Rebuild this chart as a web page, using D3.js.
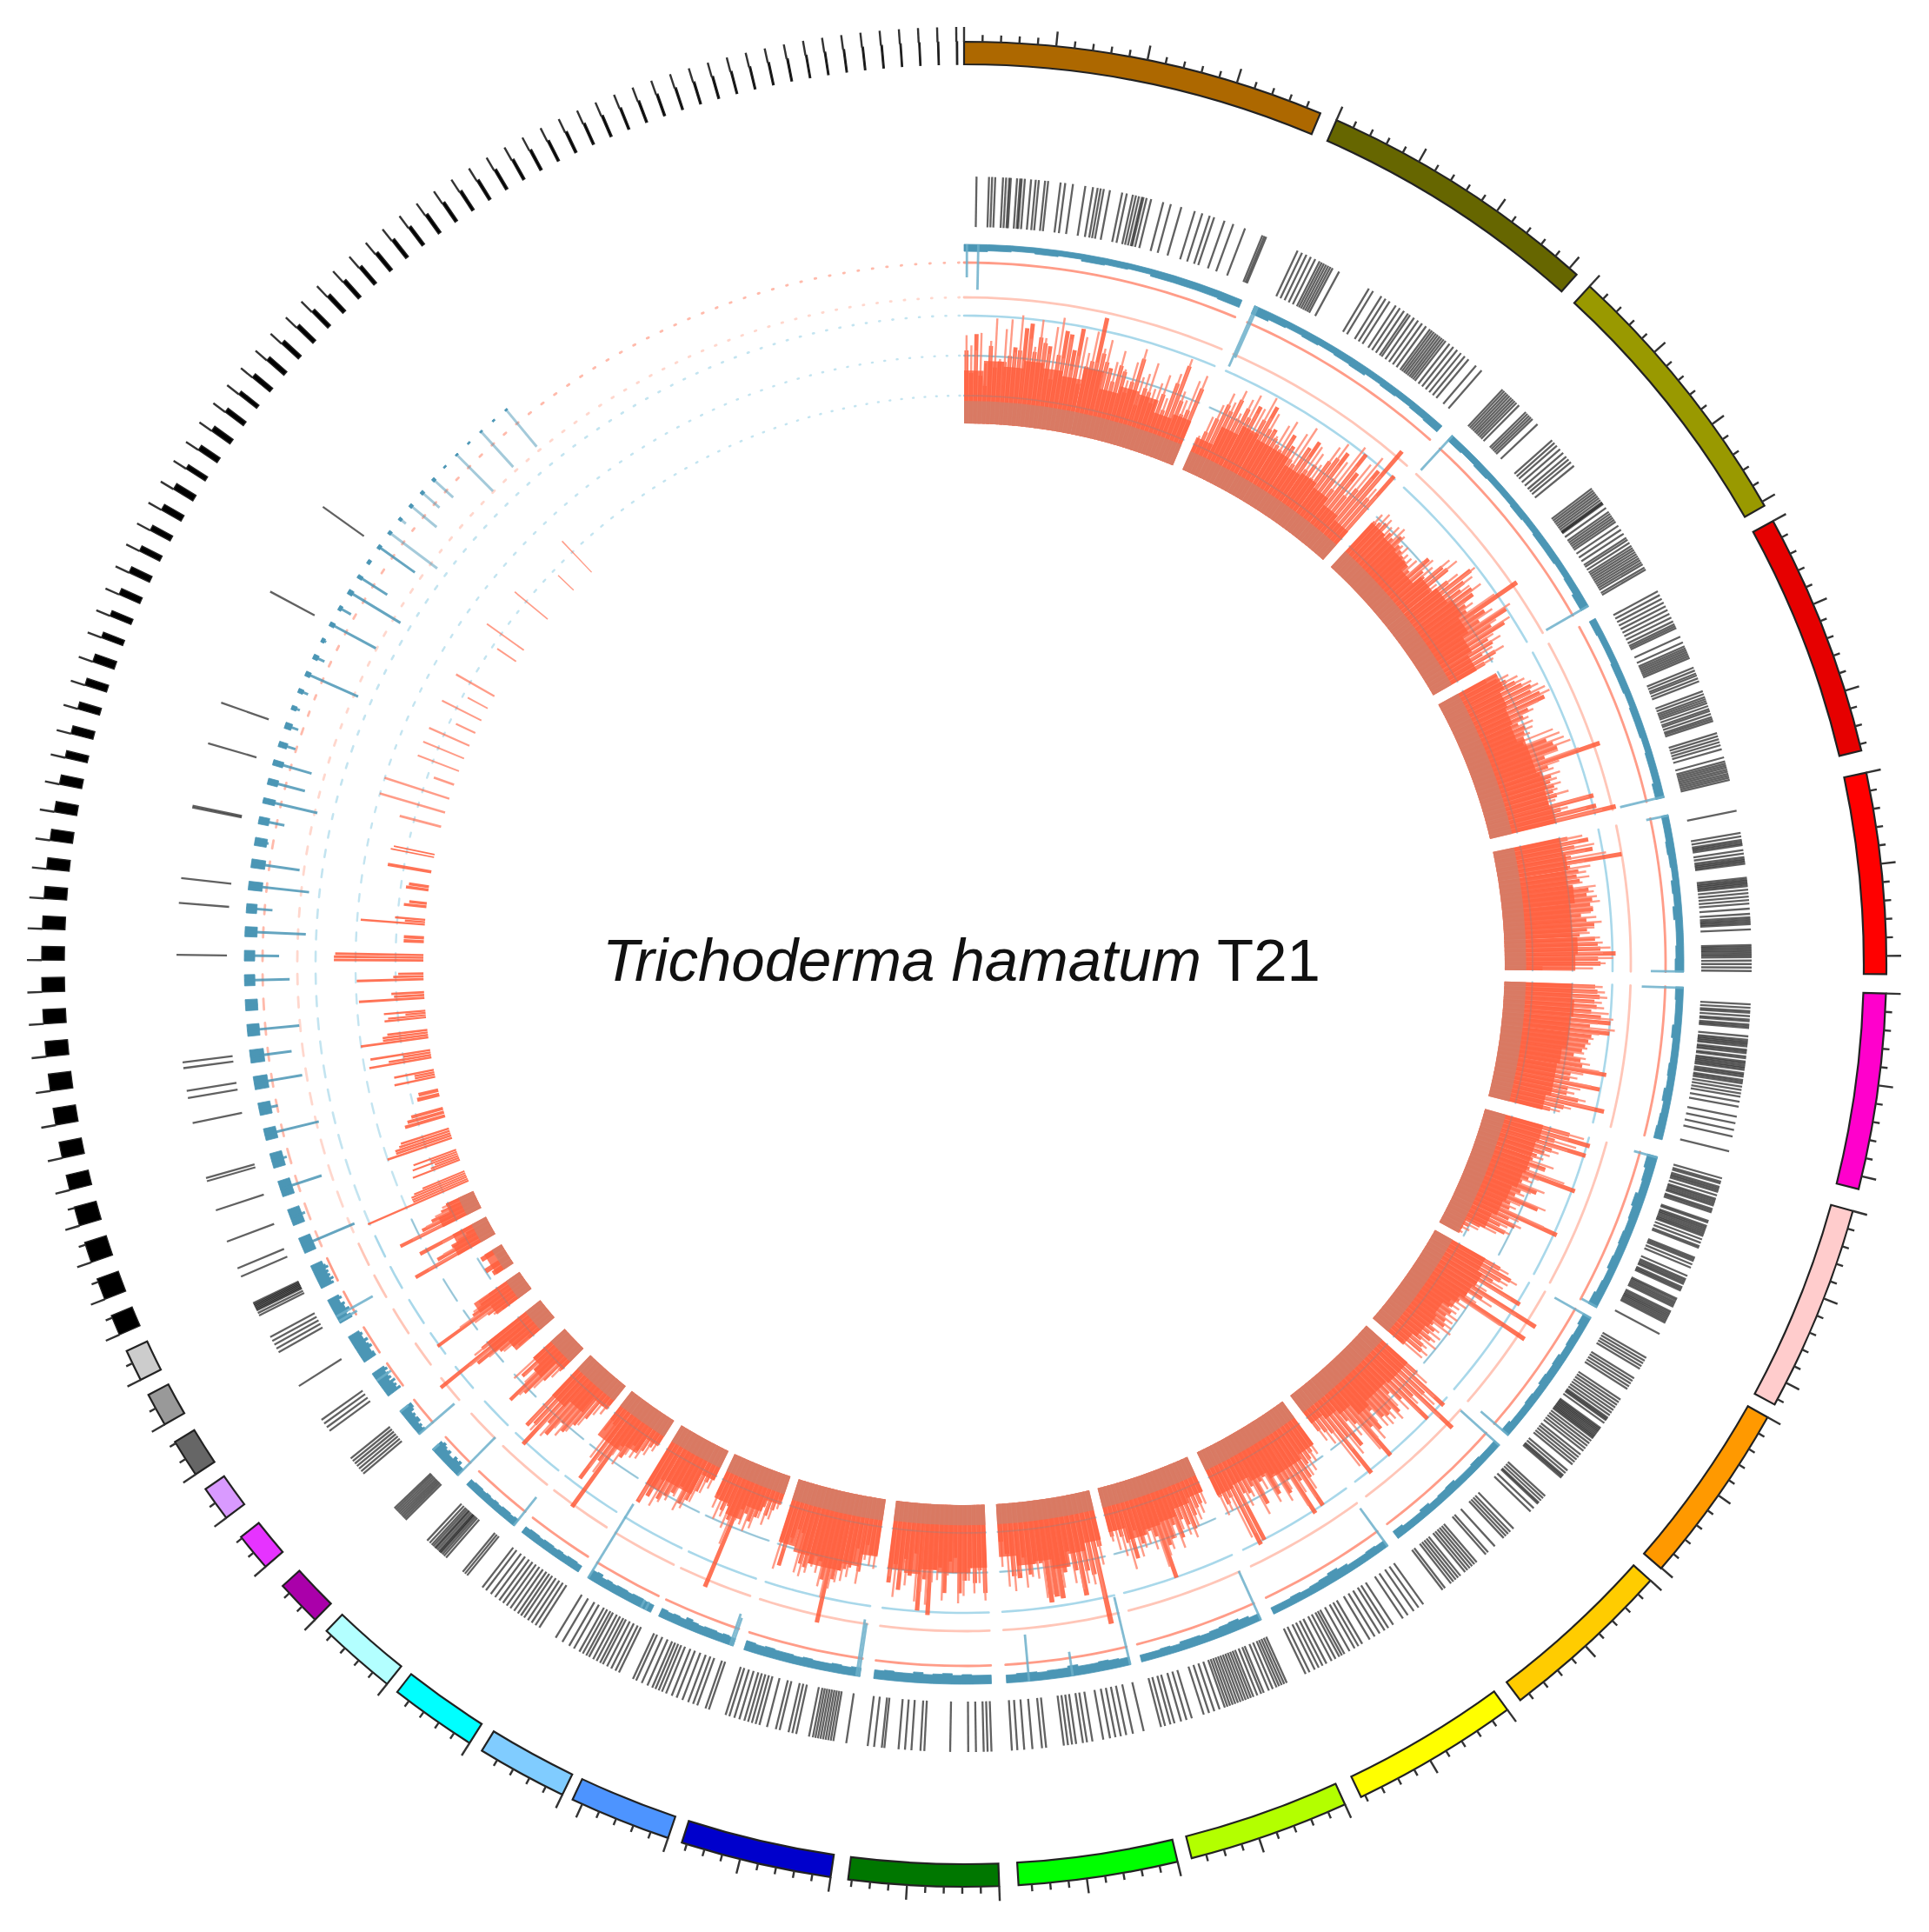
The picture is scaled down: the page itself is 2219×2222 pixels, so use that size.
<!DOCTYPE html>
<html>
<head>
<meta charset="utf-8">
<script src="https://cdnjs.cloudflare.com/ajax/libs/d3/7.8.5/d3.min.js"></script>
<style>
html, body { margin: 0; background: #fff; }
</style>
</head>
<body>
<div id="chart"></div>
<script>
// contig sizes in kb, clockwise from the top
const bigLengths = [1981, 1552, 1525, 1336, 1099, 1072, 1133, 1003, 959, 924, 881, 872, 820, 828, 558, 497, 480, 436, 253, 209, 192, 209, 183, 174];
const bigGaps = [1.09, 1.09, 1.09, 1.4, 1.2, 1.4, 0.9, 1.0, 1.0, 1.1, 0.9, 1.2, 1.1, 0.9, 0.7, 0.9, 0.8, 1.0, 1.6, 1.5, 1.1, 1.25, 1.05, 1.1];
const bigColors = ["#ad6800", "#666600", "#999900", "#e60000", "#ff0000", "#ff00cc", "#ffcccc", "#ff9900", "#ffcc00", "#ffff00", "#b3ff00", "#00ff00", "#007700", "#0000cc", "#4d94ff", "#80ccff", "#00ffff", "#b3ffff", "#aa00aa", "#e633ff", "#d99aff", "#666666", "#999999", "#cccccc"];
const tinyLengths = [113, 118, 113, 105, 83, 87, 92, 92, 83, 78, 78, 74, 70, 65, 61, 61, 57, 52, 39, 44, 39, 39, 44, 31, 31, 35, 35, 31, 31, 35, 35, 26, 31, 31, 26, 22, 26, 26,
    24, 23, 22, 22, 21, 20, 20, 19, 18, 18, 17, 16, 15, 15, 14, 14, 13, 13, 12, 12, 11, 11, 11, 10, 10, 10, 9, 9, 9, 9, 8, 8, 8, 8, 8, 7, 7, 7, 7];

// gene positions, percent along each big contig
const genes = [
    [4, 8, 9, 10, 12.5, 13.5, 14.5, 15, 17, 18, 18.5, 19.5, 21.5, 23, 24, 26, 27, 31, 32.5, 35, 39, 41.5, 43, 44, 45, 47, 51, 52.5, 54.5, 55.5, 56.5, 57.5, 58, 59, 60.5, 64.5, 67, 70.5, 75, 77.5, 80, 81.5, 85, 88, 92, 98, 98.7, 99.3],
    [7, 9, 11, 13, 15, 17, 18, 19, 20, 21, 22, 23, 26, 40, 42, 46, 48, 50, 53, 55, 57, 59, 60, 62, 64, 66, 68, 70, 71, 72, 73, 74, 75, 76, 77, 78, 80, 82, 84, 86, 88, 90, 94, 97],
    [2.5, 3.5, 4.5, 5.5, 6.5, 7.5, 8.5, 9.5, 10.5, 12, 16, 17, 18, 19, 20, 23, 32, 33.5, 35, 37, 39, 41, 42.5, 44, 46, 58, 59, 60, 61, 62, 63, 64, 65, 65.5, 66, 68, 70, 71, 72, 73, 74, 75, 77, 79, 81, 83, 84, 85.5, 87, 88, 89, 90, 91, 92, 93, 94, 95, 96, 97.5, 98.5],
    [3, 5, 7, 9, 11, 13, 15, 17, 19, 20.5, 21.5, 22.5, 27, 30, 32, 33, 34, 35, 36, 37, 38, 43, 44.5, 46, 47, 48.5, 50, 55, 56.5, 58, 59, 60, 61, 62.5, 64, 65, 66.5, 68, 69, 70, 76, 77.5, 79, 80.5, 82, 84, 88, 90, 91, 92, 93, 94, 95, 96, 97, 98, 99],
    [6, 19, 21, 23, 24, 25, 26, 29, 31, 33, 34, 35, 36, 37, 45, 46, 47, 48, 49, 50, 52, 54, 56, 58, 60, 63, 66, 68, 69, 70, 71, 72, 75, 84, 85, 86, 87, 88, 89, 90, 91, 93, 95, 97, 99],
    [9, 11, 13, 14, 16, 18, 19, 21, 22, 23, 28, 30, 31, 32, 33, 34, 36, 37, 38, 40, 41, 43, 44, 45, 46, 47, 48, 50, 51, 52, 54, 55, 56, 58, 60, 62, 64, 67, 70, 76, 80, 84, 88, 97],
    [2, 4, 5, 7, 8, 9, 10, 12, 14, 15, 16, 17, 18, 20, 21, 22, 27, 28, 30, 31, 32, 33, 34, 35, 36, 38, 40, 42, 43, 49, 50, 51, 53, 55, 60, 62, 63, 64, 65, 67, 68, 69, 74, 75, 76, 77, 78, 79, 82, 83, 84, 85, 86, 87, 88, 89, 96],
    [5, 7, 9, 11, 13, 20, 22, 24, 26, 28, 36, 38, 40, 42, 44, 46, 48, 50, 51, 52, 54, 58, 59, 60, 61, 62, 63, 64, 65, 66, 68, 70, 72, 74, 76, 79, 81, 83, 85, 87, 92, 94, 96, 97, 98],
    [5, 7, 9, 11, 12, 16, 19, 35, 38, 40, 42, 44, 52, 58, 60, 68, 70, 72, 74, 76, 78, 82, 84, 86, 88, 90, 95, 97],
    [4, 8, 12, 17, 21, 29, 33, 36, 40, 44, 48, 54, 57, 60, 64, 68, 70, 72, 75, 78, 82, 85, 88, 91, 95, 98],
    [2, 4, 6, 8, 10, 13, 16, 20, 22, 25, 28, 30, 32, 34, 36, 38, 40, 42, 44, 46, 48, 50, 54, 58, 62, 66, 75, 79, 83, 88, 91, 95, 98],
    [2, 10, 15, 19, 23, 27, 32, 40, 44, 47, 52, 55, 58, 61, 74, 77, 84, 90, 95, 99],
    [2, 5, 8, 14, 20, 34, 54, 57, 64, 69, 74, 85, 87, 93, 98],
    [3, 13, 15, 17, 19, 21, 23, 25, 27, 29, 32, 42, 45, 48, 55, 58, 65, 71, 74, 77, 80, 83, 87, 91, 95, 98],
    [3, 7, 17, 22, 28, 35, 42, 48, 55, 60, 64, 68, 72, 78, 85, 92, 96],
    [3, 8, 14, 20, 26, 30, 35, 40, 46, 50, 55, 60, 68, 75, 85, 95],
    [4, 10, 16, 22, 28, 33, 38, 44, 50, 56, 62, 68, 75, 82, 90, 96],
    [8, 12, 16, 48, 52, 55, 58, 60, 62, 65, 68, 70, 73, 76, 80, 85],
    [15, 20, 25, 30, 35, 40, 45, 50, 55],
    [20, 30, 40, 50, 60, 70, 80],
    [25, 40, 55, 70],
    [50],
    [20, 35, 50, 65, 80],
    [15, 25, 35, 40, 45, 50, 55, 60, 65]
];
// genes on the small black contigs, by contig number
const tinyGenes = { 0: [25, 75], 1: [50], 2: [50], 3: [40, 60], 5: [50], 6: [25, 75], 7: [30, 70], 11: [50], 13: [50], 14: [50], 17: [40, 60], 20: [50], 22: [50], 28: [50], 33: [50] };

// histogram heights, 100 = outer light salmon ring
const redBars = [
    [58, 40, 71, 38, 30, 62, 45, 50, 50, 55, 62, 60, 78, 82, 60, 72, 68, 66, 40, 60, 80, 78, 66, 84, 40, 55, 60, 96, 68, 62, 58, 48, 62, 58, 42, 52, 72, 35, 50, 48, 40, 44, 50, 38, 62, 78, 50, 40, 45, 65],
    [22, 35, 48, 62, 58, 70, 55, 66, 60, 72, 50, 64, 78, 60, 62, 56, 52, 50, 66, 58, 48, 46, 64, 72, 48, 55, 45, 64, 70, 78, 55, 48, 86, 70, 50, 60, 82, 106, 60, 87],
    [50, 52, 55, 48, 52, 50, 56, 50, 48, 46, 45, 44, 42, 60, 50, 48, 64, 66, 44, 60, 80, 70, 64, 72, 70, 60, 58, 104, 70, 62, 85, 68, 78, 60, 62, 50, 60, 48],
    [42, 50, 56, 62, 66, 72, 70, 76, 78, 62, 56, 50, 54, 52, 50, 48, 66, 70, 72, 60, 105, 60, 52, 60, 58, 60, 58, 60, 52, 88, 60, 88, 103],
    [60, 76, 64, 78, 60, 100, 58, 64, 62, 64, 58, 70, 68, 72, 70, 72, 62, 66, 72, 66, 60, 72, 74, 76, 88, 74, 76, 30],
    [72, 74, 76, 72, 74, 70, 78, 86, 70, 86, 72, 70, 68, 66, 60, 66, 68, 88, 60, 60, 85, 60, 60, 70, 92, 60, 50],
    [70, 88, 60, 87, 60, 55, 50, 48, 60, 48, 88, 50, 46, 60, 48, 45, 66, 44, 45, 88, 48, 55, 44, 50, 30, 22, 18, 14],
    [60, 72, 65, 60, 88, 50, 108, 60, 48, 106, 46, 40, 42, 46, 44, 46, 48, 40, 44, 42, 46, 40, 44, 46, 30],
    [55, 88, 70, 105, 65, 86, 60, 50, 66, 60, 62, 60, 50, 66, 60, 87, 50, 44, 66, 54, 88, 44, 40, 36],
    [42, 46, 50, 52, 62, 86, 60, 88, 54, 64, 44, 60, 42, 44, 62, 44, 48, 46, 86, 88, 44, 48, 40],
    [30, 38, 40, 45, 55, 50, 44, 58, 46, 56, 60, 86, 50, 44, 46, 52, 40, 62, 48, 42, 36, 40],
    [45, 107, 66, 62, 81, 60, 44, 60, 80, 78, 82, 50, 50, 58, 44, 60, 58, 40, 30],
    [70, 52, 62, 50, 60, 70, 42, 45, 70, 50, 52, 88, 60, 85, 40, 58, 45, 70, 50, 65],
    [45, 45, 38, 60, 42, 58, 60, 62, 70, 106, 72, 58, 55, 62, 66, 64, 40, 38, 46, 70, 50],
    [20, 30, 36, 30, 40, 45, 40, 38, 106, 50, 40, 45, 38, 35],
    [26, 30, 40, 50, 55, 42, 50, 55, 60, 45, 62, 70],
    [22, 28, 34, 36, 34, 48, 40, 102, 60, 80, 30, 28],
    [20, 24, 40, 50, 60, 55, 70, 62, 88, 70, 75],
    [26, 40, 58, 70, 40, 50, 34],
    [26, 40, 50, 70, 105, 60],
    [28, 40, 87, 50, 40, 30],
    [18, 22, 8, 20],
    [72, 50, 35, 20, 60],
    [71, 50, 40, 30, 24]
];
// finer pale lines that sit between the wider bars
const redThin = [
    [70, 62, 58, 72, 48, 66, 84, 52, 76, 84, 58, 88, 52, 70, 64, 86, 72, 60, 82, 90, 58, 74, 50, 62, 78, 66, 84, 60, 72, 80, 56, 64, 74, 60, 52, 68, 80, 58, 62, 72, 52, 58, 66, 48, 70, 84, 58, 52, 70, 76],
    [30, 48, 60, 72, 66, 78, 60, 74, 80, 66, 72, 84, 68, 74, 60, 58, 70, 76, 62, 56, 72, 80, 62, 58, 70, 66, 58, 78, 84, 66, 72, 90, 74, 62, 82, 92, 74, 80, 70, 66],
    [58, 62, 60, 56, 60, 62, 58, 52, 54, 50, 50, 52, 56, 62, 58, 72, 76, 52, 70, 84, 78, 72, 80, 62, 66, 84, 62, 76, 90, 74, 84, 66, 70, 60, 68, 56],
    [52, 60, 66, 70, 74, 78, 82, 84, 72, 66, 60, 62, 60, 56, 74, 78, 80, 84, 72, 88, 70, 64, 68, 64, 66, 62, 70, 58, 84, 66, 80, 92],
    [72, 68, 80, 72, 88, 70, 74, 70, 72, 66, 76, 74, 76, 78, 72, 70, 74, 78, 72, 68, 76, 78, 84, 78, 86, 80, 70],
    [78, 80, 82, 78, 80, 84, 88, 76, 90, 78, 74, 72, 70, 68, 70, 74, 82, 70, 66, 78, 70, 66, 76, 84, 66, 58],
    [82, 70, 78, 72, 66, 60, 56, 66, 60, 78, 58, 54, 66, 56, 52, 72, 52, 50, 76, 56, 60, 50, 54, 44, 30, 24, 20],
    [68, 78, 72, 70, 80, 60, 90, 70, 58, 84, 54, 50, 50, 54, 52, 54, 56, 48, 52, 50, 54, 48, 52, 50],
    [66, 78, 82, 92, 72, 78, 70, 62, 72, 68, 70, 68, 60, 74, 70, 78, 60, 54, 72, 64, 78, 52, 46],
    [50, 54, 60, 62, 72, 78, 70, 80, 62, 70, 56, 66, 52, 54, 70, 52, 58, 56, 78, 80, 54, 56],
    [40, 46, 50, 54, 62, 58, 52, 66, 56, 64, 68, 76, 60, 54, 56, 62, 50, 70, 58, 52, 44],
    [60, 86, 74, 72, 76, 70, 56, 72, 78, 76, 78, 62, 60, 68, 56, 70, 66, 50],
    [76, 62, 70, 60, 72, 78, 54, 56, 76, 60, 62, 80, 70, 78, 52, 66, 56, 76, 60],
    [56, 54, 50, 70, 54, 66, 70, 72, 78, 86, 78, 68, 64, 70, 74, 72, 52, 50, 56, 74],
    [28, 38, 44, 40, 50, 54, 50, 48, 70, 58, 50, 54, 46],
    [34, 40, 50, 58, 62, 52, 58, 62, 68, 56, 68],
    [30, 36, 42, 44, 44, 56, 50, 70, 68, 62, 38],
    [30, 34, 48, 58, 66, 62, 74, 70, 76, 72],
    [34, 50, 62, 52, 48, 56],
    [36, 48, 60, 76, 68],
    [36, 52, 64, 48, 40],
    [],
    [60, 44, 28, 40],
    [60, 46, 36, 28]
];
const redCore = [
    [42, 50, 46, 52, 48, 44, 54, 40, 46, 44, 34, 38],
    [28, 44, 52, 48, 48, 42, 44, 40, 34, 30],
    [48, 46, 44, 38, 46, 50, 54, 50, 44, 40],
    [52, 48, 46, 44, 50, 50, 54, 52, 54],
    [54, 56, 54, 58, 54, 54, 58, 56],
    [54, 56, 54, 54, 50, 48, 48, 44],
    [48, 46, 46, 44, 40, 38, 34, 18],
    [46, 50, 48, 44, 36, 38, 36, 32],
    [44, 44, 42, 42, 46, 36, 32, 28],
    [42, 46, 46, 40, 36, 38],
    [30, 34, 40, 42, 46, 36],
    [40, 46, 56, 48, 50, 42],
    [50, 54, 54, 52, 56, 54],
    [46, 56, 62, 62, 56, 52],
    [24, 34, 46, 38],
    [26, 44, 44, 54],
    [24, 38, 44, 44],
    [24, 38, 44],
    [24, 40, 34],
    [40, 54],
    [34, 44],
    [16],
    [34, 30],
    [34, 24]
];
const redBase = [18, 16, 17, 18, 17, 17, 17, 16, 17, 16, 16, 16, 16, 17, 15, 15, 15, 15, 15, 15, 13, 9, 13, 13];
const tinyRedBars = { 0: [87, 47, 47, 47, 44, 36], 1: [40, 24, 20, 38, 22, 36], 2: [54, 46, 46, 42, 40], 3: [33, 30, 26], 4: [18, 16], 5: [33, 16, 16, 32], 6: [50, 34, 22, 48], 7: [54, 36, 36, 32],
    8: [33, 30, 16, 33], 9: [52, 24, 26], 10: [53, 24, 20], 11: [71, 71, 70], 12: [16, 16], 13: [51, 16, 24], 14: [18, 14], 15: [18, 16], 16: [35], 17: [35, 33], 19: [34], 20: [54], 21: [54],
    22: [17], 23: [35], 24: [35], 25: [35], 26: [17], 27: [35], 28: [18], 29: [35], 32: [18], 33: [36], 36: [34], 39: [17], 41: [34] };

// coverage track: band depth per contig and lone peaks as [percent, depth]
const blueBand = [
    [4, 3.5, 3, 3.5, 3, 4, 3.5, 3, 4, 4, 4, 4.5],
    [5, 4, 3.5, 4, 3.5, 4, 4.5, 3.5, 4, 3.5, 4, 4.5],
    [4, 3.5, 4, 3.5, 3.5, 4, 3.5, 4, 4, 3.5, 4, 5],
    [4, 3.5, 3.5, 4, 4, 3.5, 4, 4, 3.5, 4, 4, 5],
    [4, 4, 4.5, 4, 3.5, 4.5, 4, 5, 4, 4, 4.5, 5],
    [4.5, 4, 4, 5, 4, 4, 4.5, 4, 5, 4, 4.5, 5],
    [6, 5, 4.5, 6, 5, 4.5, 5, 4.5, 5, 4, 4.5, 5.5],
    [5, 4, 4.5, 4, 5, 4.5, 5, 4, 4.5, 4, 4, 5],
    [4, 4, 4.5, 4, 4, 5, 4.5, 4, 5, 4, 4, 5],
    [4, 4.5, 4, 4, 5, 6, 5, 4.5, 4, 4.5, 4, 4],
    [4, 5, 6, 5.5, 5, 4.5, 5, 5, 4, 4.5, 4, 4],
    [4.5, 5, 5.5, 5, 5, 6, 5, 5, 4.5, 5, 5, 4.5],
    [5, 5, 5.5, 5, 6, 5.5, 5, 6, 5, 5, 5.5, 5],
    [5, 4.5, 5, 4.5, 4.5, 5, 4.5, 5, 5, 5.5, 5, 5.5],
    [4.5, 5, 4.5, 5, 5, 4.5, 5, 6, 4.5, 5, 4.5, 5],
    [4.5, 4.5, 5, 5, 4.5, 5, 5, 4.5, 5, 4.5, 6, 5.5],
    [4, 4.5, 4.5, 4, 4.5, 4, 4.5, 4.5, 4, 4.5, 4.5, 4],
    [4.5, 4, 4.5, 4.5, 4, 4.5, 4, 4.5, 4, 4.5, 4.5, 4],
    [5, 5, 7, 6, 7, 5, 5, 7, 6, 7, 8, 7],
    [5, 4, 5, 4, 6, 6, 5, 6, 5, 7, 8, 8],
    [9, 7, 8, 7, 9, 6, 8, 7, 8, 7, 9, 8],
    [8, 8, 7, 7, 9, 8, 7, 9, 7, 7, 8, 7],
    [8, 8, 6, 7, 9, 7, 7, 8, 6, 6, 8, 7],
    [8, 7, 9, 7, 8, 7, 8, 7, 9, 8, 7, 7]
];
const bluePeaks = [
    [[1, 19], [5, 26]], [[0.5, 38], [1.5, 32]], [[0.3, 27], [99.7, 28]], [[99.5, 26]], [[0.5, 13], [99.7, 19]], [[0.5, 24]], [[0.5, 14], [99.5, 10]],
    [[0.3, 24], [99.6, 21]], [[0.3, 30]], [[0.3, 27]], [[0.3, 31]], [[0.3, 40], [47, 14], [82, 27]], [], [[1, 31], [3, 33]], [[1, 17], [4, 19]],
    [[8, 5], [15, 5], [99.6, 50]], [], [[0.5, 21]], [[0.5, 31], [98, 5]], [[0.5, 27], [98, 6]], [[70, 10]], [], [[30, 24], [10, 12]], []
];
const tinyBlueBlock = [7, 7, 7, 7, 7, 7, 8, 8, 7, 7, 6, 6, 7, 6, 8, 8, 7, 6, 7, 6, 6, 5, 4, 3, 3, 3, 3, 2, 3, 2, 3, 3, 2, 2, 2, 2, 2, 2, 2, 1, 1, 1, 1, 1, 1];
const tinyBlueTail = [33, 9, 25, 9, 32, 11, 28, 24, 30, 7, 26, 20, 35, 15, 35, 28, 8, 15, 32, 22, 23, 10, 8, 5, 6, 33, 7, 3, 30, 8, 35, 20, 2, 26, 35, 5, 20, 14, 16, 1, 30, 1, 28, 1, 28];

const tickKb = 100, majorEvery = 500;
const title = ["Trichoderma hamatum", " T21"];

const width = 2219, height = 2222;
const cx = 1109, cy = 1109;
const tinyGap = 1.09;
const rad = Math.PI / 180;

const lengths = bigLengths.concat(tinyLengths);
const nBig = bigLengths.length;
const angle = d3.scaleLinear().domain([0, 1000]).range([0, 11.47]);

let acc = 0;
const contigs = lengths.map((len, i) => {
    const start = acc;
    acc += angle(len) + (i < nBig ? bigGaps[i] : tinyGap);
    return {
        i: i,
        len: len,
        a0: start * rad,
        a1: (start + angle(len)) * rad,
        color: i < nBig ? bigColors[i] : "#000",
        genes: i < nBig ? genes[i] : (tinyGenes[i - nBig] || []),
        bars: i < nBig ? redBars[i] : (tinyRedBars[i - nBig] || []),
        thin: i < nBig ? redThin[i] : [],
        core: i < nBig ? redCore[i] : [],
        base: i < nBig ? redBase[i] : 0,
        band: i < nBig ? blueBand[i] : (tinyBlueBlock[i - nBig] ? [tinyBlueBlock[i - nBig]] : []),
        peaks: i < nBig ? bluePeaks[i] : (tinyBlueTail[i - nBig] ? [[50, tinyBlueTail[i - nBig]]] : [])
    };
});

const pct = d3.scaleLinear().domain([0, 100]);
const rRed = d3.scaleLinear().domain([0, 100]).range([622, 767]);
const rBlue = d3.scaleLinear().domain([0, 50]).range([828, 728]);

const svg = d3.select("#chart").append("svg")
    .attr("width", width)
    .attr("height", height)
    .style("display", "block");

const plot = svg.append("g")
    .attr("transform", "translate(" + cx + "," + cy + ")")
    .style("filter", "blur(0.6px)");

const arc = d3.arc();

// radial line helper
function spoke(a, r0, r1) {
    return d3.lineRadial().angle(a).radius(d => d)([r0, r1]);
}

// curved line along a contig
function ring(c, r) {
    const n = Math.max(1, Math.ceil((c.a1 - c.a0) / rad));
    const pts = d3.range(n + 1).map(k => c.a0 + (c.a1 - c.a0) * k / n);
    return d3.lineRadial().angle(d => d).radius(r)(pts);
}

// grid rings and the two flat salmon tracks
const rings = [
    { r: 654, color: "#a9d8ea", w: 2.4 },
    { r: 700, color: "#a9d8ea", w: 2.4 },
    { r: 746, color: "#a9d8ea", w: 2.6 },
    { r: 767, color: "#ffc6b8", w: 2.8 },
    { r: 807, color: "#ff9c88", w: 2.8 }
];
rings.forEach(t => {
    plot.append("g").selectAll("path")
        .data(contigs)
        .enter()
        .append("path")
        .attr("d", c => ring(c, t.r))
        .attr("fill", "none")
        .attr("stroke", t.color)
        .attr("stroke-width", t.w)
        .attr("stroke-linecap", "round")
        .attr("opacity", c => c.i < nBig ? 1 : 0.7);
});

// histogram: single bars, pale lines, stepped core, then the dull base
const barLayer = plot.append("g");
contigs.forEach(c => {
    const slot = (c.a1 - c.a0) / Math.max(1, c.bars.length);
    const tiny = c.i >= nBig;
    const narrow = tiny && c.a1 - c.a0 < 0.012;
    const inset = narrow ? 0.25 : 0.08;
    barLayer.append("g").selectAll("path")
        .data(c.bars)
        .enter()
        .append("path")
        .attr("d", (v, k) => arc({
            innerRadius: rRed(0),
            outerRadius: rRed(v),
            startAngle: c.a0 + slot * k + slot * inset,
            endAngle: c.a0 + slot * (k + 1) - slot * inset
        }))
        .attr("fill", "#ff5a38")
        .attr("opacity", tiny && c.i > nBig + 18 ? 0.6 : 0.85);

    const thinSlot = (c.a1 - c.a0) / Math.max(1, c.thin.length);
    barLayer.append("g").selectAll("path")
        .data(c.thin)
        .enter()
        .append("path")
        .attr("d", (v, k) => spoke(c.a0 + thinSlot * (k + 0.5), rRed(0), rRed(v)))
        .attr("stroke", "#ff8a72")
        .attr("stroke-width", 2.4)
        .attr("opacity", 0.85);

    const coreSlot = (c.a1 - c.a0) / Math.max(1, c.core.length);
    barLayer.append("g").selectAll("path")
        .data(c.core)
        .enter()
        .append("path")
        .attr("d", (v, k) => arc({
            innerRadius: rRed(0),
            outerRadius: rRed(v),
            startAngle: c.a0 + coreSlot * k,
            endAngle: c.a0 + coreSlot * (k + 1)
        }))
        .attr("fill", "#ff5f3e")
        .attr("opacity", 0.82);

    if (c.base) {
        barLayer.append("path")
            .attr("d", arc({ innerRadius: rRed(0), outerRadius: rRed(c.base), startAngle: c.a0, endAngle: c.a1 }))
            .attr("fill", "#d07f6c")
            .attr("opacity", 0.8);
    }
});

// the grid shows faintly through the bars
[654, 700].forEach(r => {
    plot.append("g").selectAll("path")
        .data(contigs.slice(0, nBig))
        .enter()
        .append("path")
        .attr("d", c => ring(c, r))
        .attr("fill", "none")
        .attr("stroke", "#6f8f9f")
        .attr("stroke-width", 1.6)
        .attr("opacity", 0.28);
});

// coverage band with its peaks
const bandArea = d3.areaRadial()
    .angle(d => d.a)
    .innerRadius(d => rBlue(d.v))
    .outerRadius(rBlue(0));
const blueLayer = plot.append("g");
contigs.forEach(c => {
    if (c.band.length) {
        const step = (c.a1 - c.a0) / c.band.length;
        const pts = [];
        c.band.forEach((v, k) => {
            pts.push({ a: c.a0 + step * k, v: v });
            pts.push({ a: c.a0 + step * (k + 1), v: v });
        });
        blueLayer.append("path")
            .attr("d", bandArea(pts))
            .attr("fill", "#4b96b5")
            .attr("stroke", "#4b96b5")
            .attr("stroke-width", 0.8);
    }
    const tiny = c.i >= nBig;
    c.peaks.forEach(p => {
        const a = c.a0 + (c.a1 - c.a0) * pct(p[0]);
        blueLayer.append("path")
            .attr("d", spoke(a, rBlue(0), rBlue(p[1])))
            .attr("stroke", tiny ? "#4b96b5" : "#6db0ca")
            .attr("stroke-width", tiny ? 3 : 2.8)
            .attr("opacity", c.i >= nBig + 34 ? 0.5 : 0.85);
    });
});

// gene track
const geneLayer = plot.append("g");
contigs.forEach(c => {
    geneLayer.append("g").selectAll("path")
        .data(c.genes)
        .enter()
        .append("path")
        .attr("d", p => {
            const a = c.a0 + (c.a1 - c.a0) * pct(p);
            return spoke(a, 848, 906);
        })
        .attr("stroke", "#000")
        .attr("stroke-width", 2.3)
        .attr("opacity", 0.62);
});

// outer bands and ticks
plot.append("g").selectAll("path")
    .data(contigs)
    .enter()
    .append("path")
    .attr("d", c => arc({ innerRadius: 1035, outerRadius: 1061, startAngle: c.a0, endAngle: c.a1 }))
    .attr("fill", c => c.color)
    .attr("stroke", "#222")
    .attr("stroke-width", c => c.i < nBig ? 2.2 : 1.3);

const tickLayer = plot.append("g");
contigs.forEach(c => {
    tickLayer.append("g").selectAll("path")
        .data(d3.range(0, c.len, tickKb))
        .enter()
        .append("path")
        .attr("d", k => {
            const a = c.a0 + (c.a1 - c.a0) * k / c.len;
            return spoke(a, 1061, k % majorEvery === 0 ? 1078 : 1069);
        })
        .attr("stroke", "#333")
        .attr("stroke-width", 2.4);
});

// title in the middle
const label = svg.append("text")
    .attr("x", 1106)
    .attr("y", 1128)
    .attr("text-anchor", "middle")
    .attr("font-family", "'Liberation Sans', Arial, sans-serif")
    .attr("font-size", 69)
    .attr("fill", "#111");
label.append("tspan").attr("font-style", "italic").text(title[0]);
label.append("tspan").text(title[1]);
</script>
</body>
</html>
